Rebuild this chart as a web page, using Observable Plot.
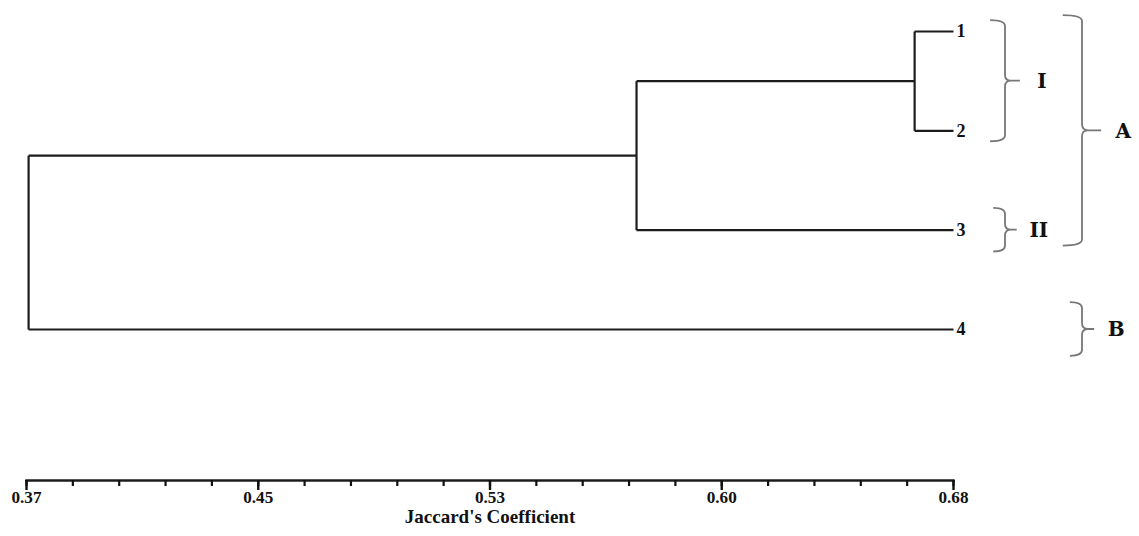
<!DOCTYPE html>
<html><head><meta charset="utf-8">
<script src="https://cdn.jsdelivr.net/npm/d3@7"></script>
<script src="https://cdn.jsdelivr.net/npm/@observablehq/plot@0.6"></script>
<style>body{margin:0;background:#fff}</style>
</head><body><div id="chart"></div>
<script>
// ---- data ----
const leaves = ["1", "2", "3", "4"];
const mergeLeft = ["1", "12", "123"];
const mergeRight = ["2", "3", "4"];
const mergeName = ["12", "123", "1234"];
const mergeHeight = [0.667, 0.574, 0.3707];
const xMin = 0.37, xMax = 0.68;
const tickLabels = ["0.37", "0.45", "0.53", "0.60", "0.68"];
const axisTitle = "Jaccard's Coefficient";
const groupLabels = ["I", "II", "A", "B"];
const groupFrom = ["1", "3", "1", "4"];
const groupTo = ["2", "3", "3", "4"];
const groupLevel = [1, 1, 2, 2];

// ---- derived ----
const majorTicks = d3.range(5).map(i => xMin + i * (xMax - xMin) / 4);
const minorTicks = d3.range(21).map(i => xMin + i * (xMax - xMin) / 20);
const nodeX = new Map(leaves.map(l => [l, xMax]));
const nodeY = new Map(leaves.map((l, i) => [l, i + 1]));
const segments = [];
mergeName.forEach((n, i) => {
  const a = mergeLeft[i], b = mergeRight[i], h = mergeHeight[i];
  const ya = nodeY.get(a), yb = nodeY.get(b);
  segments.push({x1: h, y1: ya, x2: h, y2: yb});
  segments.push({x1: h, y1: ya, x2: nodeX.get(a), y2: ya});
  segments.push({x1: h, y1: yb, x2: nodeX.get(b), y2: yb});
  nodeX.set(n, h);
  nodeY.set(n, (ya + yb) / 2);
});

function braces(index, scales, values, dimensions) {
  const g = d3.create("svg:g").attr("aria-label", "group braces");
  const right = dimensions.width - dimensions.marginRight;
  groupLabels.forEach((lab, i) => {
    const single = groupFrom[i] === groupTo[i];
    const pad = (single ? 0.22 : 0.11) + (groupLevel[i] - 1) * 0.05;
    const top = scales.y(nodeY.get(groupFrom[i]) - pad);
    const bot = scales.y(nodeY.get(groupTo[i]) + pad);
    const mid = (top + bot) / 2;
    const spine = right + (groupLevel[i] === 1 ? 52 : 129);
    const arm = 10 + (bot - top) * 0.04;
    const r = Math.min(6, (bot - top) / 7);
    const x0 = spine - arm, tipX = spine + arm;
    const d = `M${x0},${top} Q${spine},${top} ${spine},${top + r} L${spine},${mid - r} Q${spine},${mid} ${spine + r},${mid} L${tipX},${mid} M${spine + r},${mid} Q${spine},${mid} ${spine},${mid + r} L${spine},${bot - r} Q${spine},${bot} ${x0},${bot}`;
    g.append("path").attr("d", d).attr("fill", "none").attr("stroke", "#777").attr("stroke-width", 1.8);
    g.append("text").attr("x", tipX + 22).attr("y", mid).attr("dy", "0.36em")
      .attr("text-anchor", "middle")
      .attr("font-family", "'DejaVu Serif', serif").attr("font-weight", "bold").attr("font-size", 20)
      .attr("fill", "#111").text(lab);
  });
  return g.node();
}

const chart = Plot.plot({
  width: 1139, height: 536,
  marginLeft: 26, marginRight: 186, marginTop: 0, marginBottom: 56,
  style: {fontFamily: "'Liberation Serif', 'Times New Roman', serif", fontWeight: "bold", fontSize: "17px", color: "#111", background: "#fff"},
  x: {domain: [xMin, xMax]},
  y: {domain: [1, 4], range: [31, 329], axis: null},
  marks: [
    Plot.link(segments, {x1: "x1", y1: "y1", x2: "x2", y2: "y2", stroke: "#1c1c1c", strokeWidth: 2.2}),
    Plot.text(leaves, {x: () => xMax, y: d => nodeY.get(d), text: d => d, textAnchor: "start", dx: 3, fontSize: 18, fill: "#111"}),
    Plot.frame({anchor: "bottom", stroke: "#1c1c1c", strokeWidth: 2.4}),
    Plot.axisX({ticks: minorTicks, tickSize: 6, tickFormat: () => "", strokeWidth: 2.2, label: null}),
    Plot.axisX({ticks: majorTicks, tickSize: 10, tickFormat: () => "", strokeWidth: 2.4, label: null}),
    Plot.text(majorTicks, {x: d => d, text: (d, i) => tickLabels[i], frameAnchor: "bottom", dy: 22, fontSize: 17, fill: "#111"}),
    Plot.text([axisTitle], {frameAnchor: "bottom", dy: 42, fontSize: 19, fill: "#111"}),
    braces
  ]
});
chart.querySelectorAll("text").forEach(t => {
  if (tickLabels.includes(t.textContent.trim())) {
    t.setAttribute("textLength", "30");
    t.setAttribute("lengthAdjust", "spacingAndGlyphs");
  }
});
document.getElementById("chart").appendChild(chart);
</script>
</body></html>
